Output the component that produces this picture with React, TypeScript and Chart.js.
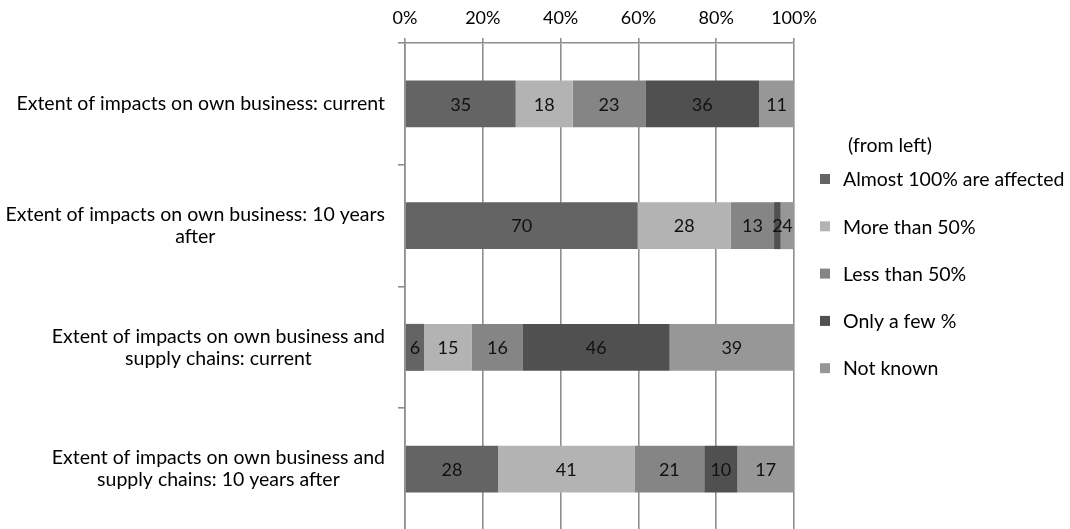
import React, { useEffect, useRef } from 'react';
import { Chart, registerables } from 'chart.js';

Chart.register(...registerables);

const categories: string[][] = [
  ['Extent of impacts on own business: current'],
  ['Extent of impacts on own business: 10 years', 'after'],
  ['Extent of impacts on own business and', 'supply chains: current'],
  ['Extent of impacts on own business and', 'supply chains: 10 years after'],
];
const seriesNames = ['Almost 100% are affected', 'More than 50%', 'Less than 50%', 'Only a few %', 'Not known'];
const almost100 = [35, 70, 6, 28];
const moreThan50 = [18, 28, 15, 41];
const lessThan50 = [23, 13, 16, 21];
const onlyAFew = [36, 2, 46, 10];
const notKnown = [11, 4, 39, 17];
const seriesColors = ['#646464', '#b3b3b3', '#858585', '#505050', '#979797'];
const xTickStep = 20;
const legendTitle = '(from left)';

const FONT = 'Lato, "Open Sans", sans-serif';
const FS_NUM = 18;
const FS_TEXT = 19.5;
const GRID = '#8e8e8e';

export default function App() {
  const ref = useRef<HTMLCanvasElement>(null);

  useEffect(() => {
    const counts = [almost100, moreThan50, lessThan50, onlyAFew, notKnown];
    const totals = categories.map((_, i) => counts.reduce((s, arr) => s + arr[i], 0));
    const datasets = counts.map((arr, di) => ({
      label: seriesNames[di],
      data: arr.map((v, i) => (v / totals[i]) * 100),
      counts: arr,
      backgroundColor: seriesColors[di],
      borderWidth: 0,
      barPercentage: 0.386,
      categoryPercentage: 1,
    }));

    const valueLabels = {
      id: 'valueLabels',
      afterDatasetsDraw(chart: any) {
        const ctx = chart.ctx;
        ctx.save();
        ctx.font = `${FS_NUM}px ${FONT}`;
        ctx.fillStyle = '#111';
        ctx.textAlign = 'center';
        ctx.textBaseline = 'middle';
        chart.data.datasets.forEach((ds: any, di: number) => {
          const meta = chart.getDatasetMeta(di);
          meta.data.forEach((bar: any, i: number) => {
            const p = bar.getProps(['x', 'y', 'base'], true);
            ctx.fillText(String(ds.counts[i]), (p.x + p.base) / 2, p.y + 1);
          });
        });
        ctx.restore();
      },
    };

    // Category labels: block right-aligned next to the axis, lines centred within the block
    const categoryLabels = {
      id: 'categoryLabels',
      afterDraw(chart: any) {
        const ctx = chart.ctx;
        const yScale = chart.scales.y;
        const right = chart.chartArea.left - 20;
        const lh = 22;
        ctx.save();
        ctx.font = `${FS_TEXT}px ${FONT}`;
        ctx.fillStyle = '#000';
        ctx.textAlign = 'center';
        ctx.textBaseline = 'middle';
        (chart.data.labels as string[][]).forEach((lines, i) => {
          const yc = yScale.getPixelForValue(i);
          const w = Math.max(...lines.map((l) => ctx.measureText(l).width));
          const cx = right - w / 2;
          const y0 = yc - ((lines.length - 1) * lh) / 2;
          lines.forEach((l, k) => ctx.fillText(l, cx, y0 + k * lh));
        });
        ctx.restore();
      },
    };

    const sideLegend = {
      id: 'sideLegend',
      afterDraw(chart: any) {
        const ctx = chart.ctx;
        const x0 = chart.chartArea.right + 26;
        ctx.save();
        ctx.font = `${FS_TEXT}px ${FONT}`;
        ctx.textBaseline = 'middle';
        ctx.textAlign = 'left';
        ctx.fillStyle = '#000';
        ctx.fillText(legendTitle, x0 + 28, 146);
        chart.data.datasets.forEach((ds: any, i: number) => {
          const y = 179 + i * 47.3;
          ctx.fillStyle = ds.backgroundColor;
          ctx.fillRect(x0, y - 5, 10, 10);
          ctx.fillStyle = '#000';
          ctx.fillText(ds.label, x0 + 23, y + 1);
        });
        ctx.restore();
      },
    };

    const chart = new Chart(ref.current as HTMLCanvasElement, {
      type: 'bar',
      data: { labels: categories, datasets: datasets as any },
      options: {
        indexAxis: 'y',
        responsive: false,
        devicePixelRatio: 1,
        animation: false,
        layout: { padding: { top: 0, right: 276, bottom: 2, left: 0 } },
        plugins: { legend: { display: false }, tooltip: { enabled: false } },
        scales: {
          x: {
            type: 'linear',
            position: 'top',
            stacked: true,
            min: 0,
            max: 100,
            ticks: {
              stepSize: xTickStep,
              callback: (v: any) => v + '%',
              font: { family: FONT, size: FS_NUM },
              color: '#000',
              padding: 9,
            },
            grid: { color: GRID, lineWidth: 1.6, tickLength: 5, tickColor: GRID },
            border: { color: GRID, width: 1.6 },
            afterFit: (scale: any) => {
              scale.height = 43;
            },
          },
          y: {
            type: 'category',
            stacked: true,
            ticks: { display: false },
            grid: {
              offset: true,
              drawOnChartArea: false,
              tickLength: 7,
              lineWidth: 1.6,
              color: GRID,
              tickColor: GRID,
            },
            border: { color: GRID, width: 1.6 },
            afterFit: (scale: any) => {
              scale.width = 405;
            },
          },
        },
      },
      plugins: [valueLabels, categoryLabels, sideLegend],
    });
    return () => chart.destroy();
  }, []);

  return (
    <div style={{ position: 'fixed', left: 0, top: 0, width: 1070, height: 529, overflow: 'hidden', background: '#fff' }}>
      <canvas ref={ref} width={1070} height={532} style={{ display: 'block', width: 1070, height: 532 }} />
    </div>
  );
}
